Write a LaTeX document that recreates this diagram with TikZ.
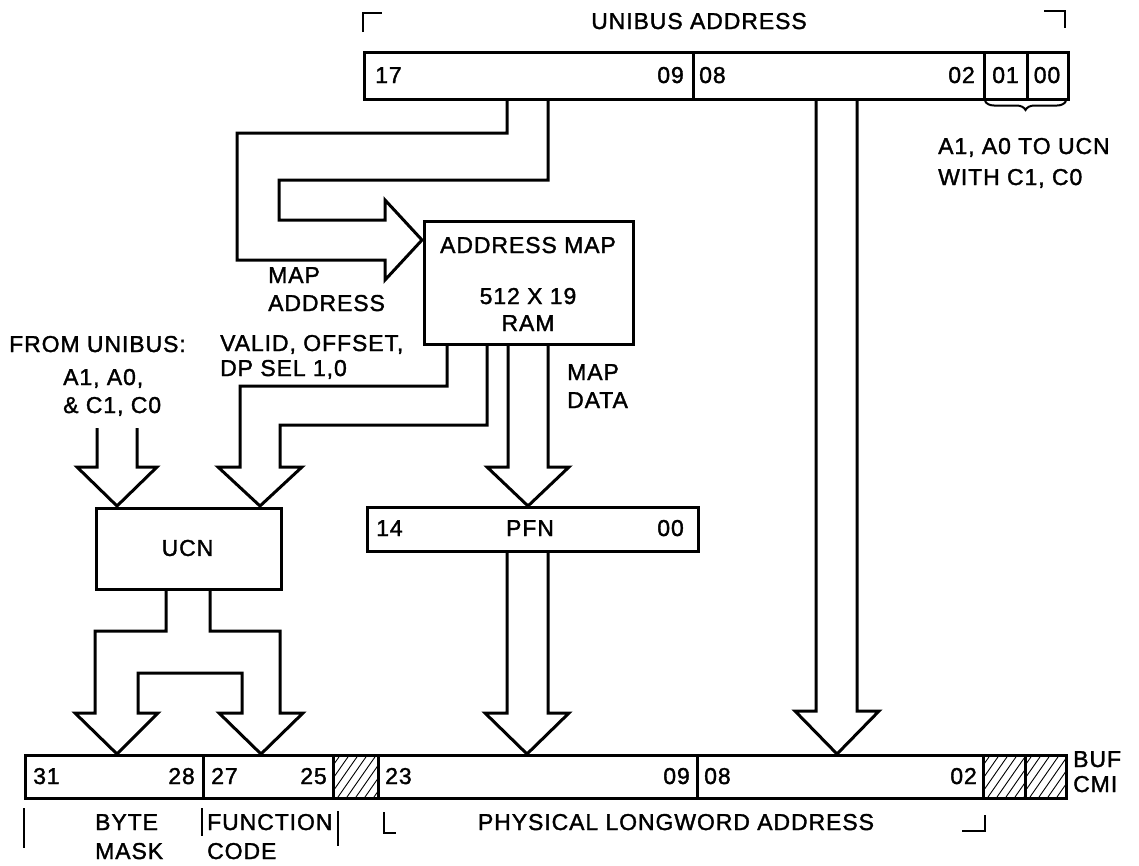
\documentclass[tikz,border=0pt]{standalone}
\usepackage{fontspec}
\setmainfont{Liberation Sans}[LetterSpace=4, FakeBold=1.5]
\usetikzlibrary{decorations.pathreplacing}
\begin{document}
\begin{tikzpicture}[x=1pt,y=-1pt,
  box/.style={draw, line width=3pt, inner sep=0pt, anchor=north west},
  lbl/.style={font=\fontsize{23}{27}\selectfont, inner sep=0pt},
  fat/.style={draw, line width=3pt, line join=miter},
  rule/.style={line width=3pt},
  hatch/.style={line width=0.9pt},
  brk/.style={line width=2.6pt}]
\useasboundingbox (0,0) rectangle (1139,865);

% ---------- top register: UNIBUS ADDRESS ----------
\node[box, minimum width=704pt, minimum height=47pt] (ureg) at (363,51) {};
\draw[rule] (693,51) -- (693,98);
\draw[rule] (984,51) -- (984,98);
\draw[rule] (1027,51) -- (1027,98);
\node[lbl, anchor=base west] (u17) at (375,83) {17};
\node[lbl, anchor=base east] (u09) at (684,83) {09};
\node[lbl, anchor=base west] (u08) at (699,83) {08};
\node[lbl, anchor=base east] (u02) at (975,83) {02};
\node[lbl, anchor=base] (u01) at (1005.5,83) {01};
\node[lbl, anchor=base] (u00) at (1047,83) {00};
\node[lbl, anchor=base] (utitle) at (699,29) {UNIBUS ADDRESS};
\draw[brk] (363,32) -- (363,13) -- (382,13);
\draw[brk] (1044,11) -- (1065,11) -- (1065,28);
\draw[line width=2pt, decorate, decoration={brace, mirror, amplitude=9pt}] (985,101) -- (1066,101);
\node[lbl, anchor=base west] (ucnnote1) at (938,154) {A1, A0 TO UCN};
\node[lbl, anchor=base west] (ucnnote2) at (938,185) {WITH C1, C0};

% ---------- address map ----------
\node[box, minimum width=209pt, minimum height=123pt] (amap) at (423,220) {};
\node[lbl, anchor=base] (am1) at (528,253) {ADDRESS MAP};
\node[lbl, anchor=base] (am2) at (528,304) {512 X 19};
\node[lbl, anchor=base] (am3) at (528,331) {RAM};

% map address fat arrow
\draw[fat] (507,98) -- (507,133) -- (237,133) -- (237,260) -- (385,260) -- (385,280)
  -- (422,240) -- (385,200) -- (385,220) -- (279,220) -- (279,180) -- (548,180) -- (548,98);
\node[lbl, anchor=base west] (ma1) at (268,283) {MAP};
\node[lbl, anchor=base west] (ma2) at (268,311) {ADDRESS};

% ---------- UCN ----------
\node[box, minimum width=185pt, minimum height=81pt] (ucn) at (95,507) {};
\node[lbl] (ucnt) at (187.5,548) {UCN};

\node[lbl, anchor=base west] (fu1) at (9,352) {FROM UNIBUS:};
\node[lbl, anchor=base west] (fu2) at (63,385) {A1, A0,};
\node[lbl, anchor=base west] (fu3) at (63,413) {\& C1, C0};
\draw[fat] (97,428) -- (97,467) -- (77,467) -- (117,506) -- (157,467) -- (137,467) -- (137,428);

% valid/offset fat arrow
\draw[fat] (447,343) -- (447,386) -- (240,386) -- (240,467) -- (218,467) -- (260,506)
  -- (302,467) -- (280,467) -- (280,425) -- (487,425) -- (487,343);
\node[lbl, anchor=base west] (vo1) at (220,351) {VALID, OFFSET,};
\node[lbl, anchor=base west] (vo2) at (220,376) {DP SEL 1,0};

% map data fat arrow
\draw[fat] (508,343) -- (508,467) -- (487,467) -- (528,506) -- (569,467) -- (548,467) -- (548,343);
\node[lbl, anchor=base west] (md1) at (567,380) {MAP};
\node[lbl, anchor=base west] (md2) at (567,408) {DATA};

% ---------- PFN ----------
\node[box, minimum width=331pt, minimum height=44pt] (pfn) at (366,506) {};
\node[lbl, anchor=base west] (p14) at (376,536) {14};
\node[lbl, anchor=base] (pt) at (530,536) {PFN};
\node[lbl, anchor=base east] (p00) at (684,536) {00};

% ---------- fat arrows to the CMI address ----------
\draw[fat] (166,588) -- (166,631) -- (95,631) -- (95,713) -- (75,713) -- (117,754) -- (158,713)
  -- (138,713) -- (138,673) -- (242,673) -- (242,713) -- (219,713) -- (261,754) -- (303,713)
  -- (280,713) -- (280,631) -- (210,631) -- (210,588);
\draw[fat] (507,550) -- (507,713) -- (485,713) -- (527,754) -- (569,713) -- (548,713) -- (548,550);
\draw[fat] (816,98) -- (816,711) -- (795,711) -- (837,754) -- (879,711) -- (857,711) -- (857,98);

% ---------- bottom register ----------
\node[box, minimum width=1041pt, minimum height=43pt] (creg) at (24,754) {};
\foreach \xa/\xb in {333/378, 983/1025, 1025/1065}{
  \begin{scope}
    \clip (\xa,754) rectangle (\xb,797);
    \foreach \i in {-40,-31,...,50}{
      \draw[hatch] ({\xa+\i},797) -- ({\xa+\i+30},754);
    }
  \end{scope}
}
\foreach \xd in {203,333,378,697,983,1025}{
  \draw[rule] (\xd,754) -- (\xd,797);
}
\node[lbl, anchor=base west] (c31) at (33,784) {31};
\node[lbl, anchor=base east] (c28) at (195,784) {28};
\node[lbl, anchor=base west] (c27) at (211,784) {27};
\node[lbl, anchor=base east] (c25) at (327,784) {25};
\node[lbl, anchor=base west] (c23) at (385,784) {23};
\node[lbl, anchor=base east] (c09) at (690,784) {09};
\node[lbl, anchor=base west] (c08) at (704,784) {08};
\node[lbl, anchor=base east] (c02) at (977,784) {02};
\node[lbl, anchor=base west] (buf) at (1073,767) {BUF};
\node[lbl, anchor=base west] (cmi) at (1073,792) {CMI};

% field labels
\draw[brk] (24,808) -- (24,848);
\node[lbl, anchor=base west] (bm1) at (95,830) {BYTE};
\node[lbl, anchor=base west] (bm2) at (95,859) {MASK};
\draw[brk] (202,808) -- (202,836);
\node[lbl, anchor=base west] (fc1) at (207,830) {FUNCTION};
\node[lbl, anchor=base west] (fc2) at (207,859) {CODE};
\draw[brk] (338,811) -- (338,846);
\draw[brk] (384,812) -- (384,833) -- (396,833);
\node[lbl, anchor=base] (pla) at (676,830) {PHYSICAL LONGWORD ADDRESS};
\draw[brk] (962,831) -- (985,831) -- (985,815);
\end{tikzpicture}
\end{document}
